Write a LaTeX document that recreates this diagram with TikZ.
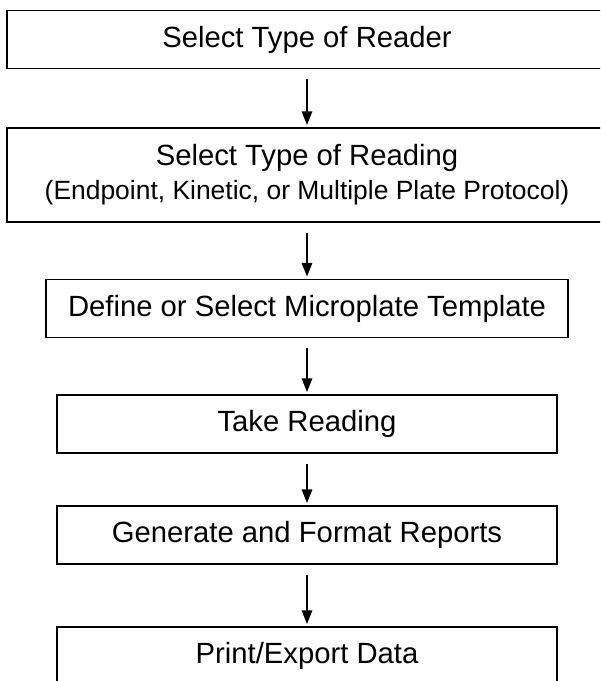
\documentclass[tikz,border=0pt]{standalone}
\usepackage{fontspec}
\setmainfont{Liberation Sans}
\usetikzlibrary{arrows.meta}

\begin{document}
\begin{tikzpicture}[x=0.025cm,y=-0.025cm,
  box/.style={draw,line width=1.4pt,minimum width=12.5cm,minimum height=1.45cm,inner sep=0pt,align=center,font=\fontsize{20.8}{25}\selectfont},
  arr/.style={-{Triangle[length=3.4mm,width=2.6mm]},line width=1.2pt,shorten <=2.5mm,shorten >=0.5mm}
]
\clip (0,0) rectangle (600,681);
\node[box,minimum width=15cm] (reader) at (307,39.5) {Select Type of Reader};
\node[box,minimum width=15cm,minimum height=2.35cm] (reading) at (307,175) {Select Type of Reading\\[-1pt]{\fontsize{18.8}{22}\selectfont(Endpoint, Kinetic, or Multiple Plate Protocol)}};
\node[box,minimum width=13.05cm] (templ) at (307,308.5) {Define or Select Microplate Template};
\node[box] (take) at (307,424) {Take Reading};
\node[box] (report) at (307,535) {Generate and Format Reports};
\node[box] (export) at (307,656) {Print/Export Data};
\draw[arr] (reader)--(reading); \draw[arr] (reading)--(templ); \draw[arr] (templ)--(take);
\draw[arr] (take)--(report); \draw[arr] (report)--(export);
\end{tikzpicture}
\end{document}
